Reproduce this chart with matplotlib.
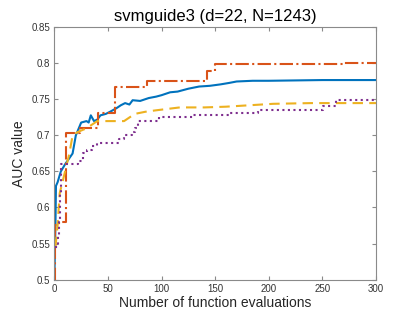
import numpy as np
import matplotlib.pyplot as plt

plt.rcParams['font.family'] = ['Liberation Sans', 'DejaVu Sans']

# data #########################################################################
blue_n = [0, 1, 1.5, 3, 6, 10, 17, 20, 25, 30, 32, 34, 37, 40, 43, 48, 52, 58, 62, 66,
          70, 73, 80, 88, 95, 100, 108, 115, 125, 135, 145, 155, 163, 170, 185, 200, 250, 300]
blue_v = [0.50, 0.575, 0.63, 0.635, 0.65, 0.66, 0.675, 0.70, 0.718, 0.72, 0.718, 0.728, 0.72,
          0.722, 0.728, 0.73, 0.733, 0.738, 0.742, 0.745, 0.743, 0.749, 0.748, 0.752, 0.754,
          0.756, 0.760, 0.761, 0.765, 0.768, 0.769, 0.771, 0.773, 0.775, 0.776, 0.776, 0.777, 0.777]

red_n = [0, 1, 4, 11, 24, 41, 57, 86, 142, 150, 270, 300]
red_v = [0.50, 0.575, 0.58, 0.703, 0.71, 0.731, 0.767, 0.775, 0.79, 0.799, 0.80, 0.80]

yellow_n = [1, 3, 5, 10, 14, 17, 22, 30, 35, 40, 65, 70, 75, 85, 95, 117, 140, 160, 204, 240, 300]
yellow_v = [0.545, 0.575, 0.62, 0.65, 0.675, 0.70, 0.705, 0.71, 0.715, 0.72, 0.72, 0.725, 0.73,
            0.733, 0.735, 0.739, 0.739, 0.740, 0.744, 0.745, 0.745]

purple_n = [1, 3, 4, 5, 6, 20, 22, 27, 30, 35, 40, 58, 60, 65, 72, 75, 78, 98, 129, 163,
            190, 251, 263, 300]
purple_v = [0.545, 0.56, 0.58, 0.62, 0.66, 0.66, 0.665, 0.675, 0.68, 0.685, 0.69, 0.69, 0.695,
            0.70, 0.705, 0.71, 0.72, 0.725, 0.728, 0.731, 0.736, 0.741, 0.749, 0.749]

x_ticks = [0, 50, 100, 150, 200, 250, 300]
y_ticks = [0.5, 0.55, 0.6, 0.65, 0.7, 0.75, 0.8, 0.85]
y_labels = ['0.5', '0.55', '0.6', '0.65', '0.7', '0.75', '0.8', '0.85']
################################################################################

fig = plt.figure(figsize=(4.15, 3.16), dpi=100)
ax = fig.add_axes([0.131, 0.1155, 0.775, 0.7975])

ax.plot(blue_n, blue_v, color='#0072BD', lw=1.5, ls='-')
ax.plot(red_n, red_v, color='#D95319', lw=1.5, ls='-.', drawstyle='steps-post')
ax.plot(yellow_n, yellow_v, color='#EDB120', lw=1.5, ls='--', dashes=(5, 3))
ax.plot(purple_n, purple_v, color='#7E2F8E', lw=1.5, ls=':', drawstyle='steps-post')

ax.set_xlim(0, 300)
ax.set_ylim(0.5, 0.85)
ax.set_xticks(x_ticks)
ax.set_yticks(y_ticks)
ax.set_yticklabels(y_labels)
ax.tick_params(direction='in', top=True, right=True, labelsize=7, labelcolor='#333333',
               color='#8a8a8a', length=3, width=0.8, pad=3)
for s in ax.spines.values():
    s.set_color('#8a8a8a')
    s.set_linewidth(0.8)

ax.set_title('svmguide3 (d=22, N=1243)', fontsize=12, color='black', pad=5)
ax.set_xlabel('Number of function evaluations', fontsize=10, color='#262626', labelpad=2)
ax.set_ylabel('AUC value', fontsize=10, color='#262626', labelpad=4)

fig.savefig('out.png', dpi=100)
